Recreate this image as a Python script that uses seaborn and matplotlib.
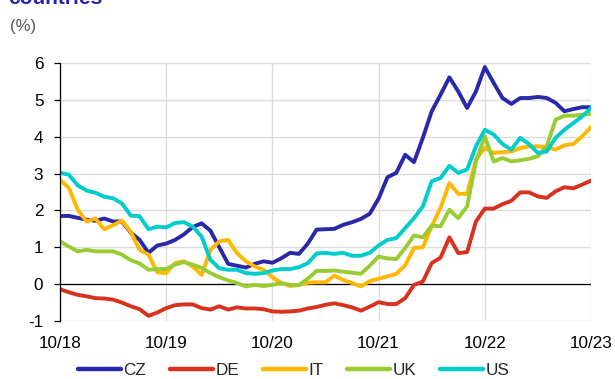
import numpy as np
import pandas as pd
import seaborn as sns
import matplotlib
matplotlib.use("Agg")
import matplotlib.pyplot as plt

# Monthly data, 10/2018 .. 10/2023
months = list(range(61))
tick_labels = ["10/18", "10/19", "10/20", "10/21", "10/22", "10/23"]
countries = ["CZ", "DE", "IT", "UK", "US"]

cz = [1.85, 1.85, 1.8, 1.75, 1.72, 1.78, 1.7, 1.7, 1.4, 1.2, 0.85, 1.05, 1.1, 1.2, 1.35, 1.55, 1.65, 1.45, 1.0, 0.55,
      0.5, 0.45, 0.55, 0.62, 0.58, 0.7, 0.85, 0.82, 1.1, 1.48, 1.49, 1.5, 1.61, 1.68, 1.77, 1.91, 2.32, 2.9, 3.02, 3.51,
      3.31, 3.97, 4.69, 5.14, 5.61, 5.23, 4.78, 5.23, 5.89, 5.46, 5.05, 4.89, 5.05, 5.05, 5.08, 5.05, 4.92, 4.69, 4.75, 4.8,
      4.8]
de = [-0.14, -0.22, -0.29, -0.33, -0.38, -0.39, -0.42, -0.5, -0.6, -0.68, -0.86, -0.77, -0.65, -0.57, -0.55, -0.55, -0.65,
      -0.69, -0.6, -0.69, -0.63, -0.66, -0.66, -0.68, -0.74, -0.75, -0.74, -0.72, -0.66, -0.62, -0.56, -0.52, -0.57, -0.63,
      -0.72, -0.61, -0.49, -0.54, -0.54, -0.38, -0.02, 0.07, 0.57, 0.72, 1.27, 0.84, 0.87, 1.7, 2.05, 2.05, 2.17, 2.26, 2.49,
      2.49, 2.38, 2.34, 2.52, 2.63, 2.6, 2.7, 2.81]
it = [2.83, 2.61, 2.02, 1.7, 1.78, 1.49, 1.6, 1.72, 1.42, 0.93, 0.8, 0.32, 0.3, 0.57, 0.62, 0.48, 0.25, 0.93, 1.16, 1.2,
      0.84, 0.62, 0.48, 0.39, 0.19, 0.03, -0.05, -0.02, 0.04, 0.05, 0.05, 0.23, 0.11, 0.03, -0.06, 0.08, 0.15, 0.21, 0.28,
      0.51, 0.98, 1.0, 1.57, 2.07, 2.74, 2.45, 2.45, 3.38, 3.7, 3.56, 3.58, 3.6, 3.69, 3.74, 3.74, 3.72, 3.65, 3.77, 3.8,
      4.01, 4.26]
uk = [1.16, 1.02, 0.89, 0.93, 0.89, 0.89, 0.89, 0.8, 0.65, 0.56, 0.39, 0.41, 0.41, 0.53, 0.6, 0.53, 0.44, 0.3, 0.19, 0.1,
      0.03, -0.06, -0.02, -0.05, -0.02, 0.03, -0.02, -0.03, 0.15, 0.36, 0.36, 0.37, 0.34, 0.31, 0.28, 0.5, 0.75, 0.7, 0.68,
      0.98, 1.32, 1.27, 1.59, 1.57, 2.02, 1.79, 2.11, 3.33, 4.01, 3.33, 3.42, 3.33, 3.36, 3.4, 3.47, 3.74, 4.46, 4.57, 4.57,
      4.6, 4.62]
us = [3.02, 2.97, 2.68, 2.54, 2.48, 2.37, 2.33, 2.19, 1.86, 1.84, 1.49, 1.56, 1.54, 1.66, 1.68, 1.56, 1.29, 0.66, 0.43,
      0.39, 0.39, 0.3, 0.28, 0.3, 0.37, 0.41, 0.41, 0.46, 0.57, 0.83, 0.85, 0.82, 0.85, 0.77, 0.77, 0.85, 1.05, 1.2, 1.25,
      1.52, 1.79, 2.11, 2.79, 2.88, 3.21, 3.02, 3.11, 3.74, 4.19, 4.06, 3.8, 3.65, 3.97, 3.8, 3.56, 3.6, 3.97, 4.19, 4.37,
      4.55, 4.78]

colors = ["#2828a8", "#d8321f", "#ffb700", "#99cc33", "#00cccc"]

df = pd.DataFrame({"month": months * 5,
                   "country": sum([[c] * 61 for c in countries], []),
                   "value": cz + de + it + uk + us})

sns.set_style("white")
plt.rcParams["font.family"] = ["Liberation Sans", "DejaVu Sans"]

fig = plt.figure(figsize=(6.15, 3.79), dpi=100)
ax = fig.add_axes([60 / 615, 1 - 321 / 379, (591 - 60) / 615, (321 - 63) / 379])

sns.lineplot(data=df, x="month", y="value", hue="country", palette=colors,
             linewidth=2.8, ax=ax, legend=True)

ax.set_xlim(0, 60)
ax.set_ylim(-1, 6)
ax.set_xticks([0, 12, 24, 36, 48, 60])
ax.set_xticklabels(tick_labels)
ax.set_yticks(range(-1, 7))
ax.set_yticklabels([str(v) for v in range(-1, 7)])
ax.grid(True, color="#dcdcdc", linewidth=1.0)
ax.set_axisbelow(True)
ax.axhline(0, color="black", linewidth=0.9, zorder=1.5)
for s in ["top", "right", "bottom"]:
    ax.spines[s].set_visible(False)
ax.spines["left"].set_color("black")
ax.spines["left"].set_linewidth(0.9)
ax.tick_params(axis="y", which="both", left=True, length=4, width=0.9, color="black",
               labelsize=12.3, pad=8, colors="black")
ax.tick_params(axis="x", bottom=False, labelsize=12.3, pad=7, colors="black")
ax.set_xlabel("")
ax.set_ylabel("")

leg = ax.legend(loc="upper center", bbox_to_anchor=(0.44, -0.135), ncol=5, frameon=False,
                fontsize=12.3, handlelength=2.5, handletextpad=0.15, columnspacing=1.4,
                borderaxespad=0)
for line in leg.get_lines():
    line.set_linewidth(3.2)

fig.text(8 / 615, 1 - 4 / 379, "countries", color="#2323b0", fontsize=15, fontweight="bold",
         va="baseline", ha="left")
fig.text(10 / 615, 1 - 27 / 379, "(%)", color="#555555", fontsize=12, va="center", ha="left")

fig.savefig("out.png", dpi=100)
